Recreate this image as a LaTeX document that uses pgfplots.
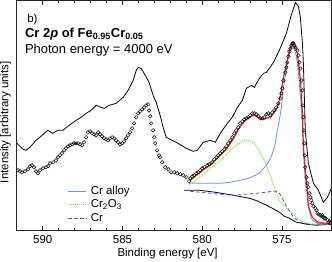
\documentclass[border=0pt]{standalone}
\usepackage{pgfplots}
\pgfplotsset{compat=1.18}
\usepackage{fontspec}
\setmainfont{Liberation Sans}
\definecolor{cralloy}{RGB}{100,150,235}
\definecolor{crmet}{RGB}{55,90,220}
\definecolor{croxide}{RGB}{130,225,60}
\definecolor{fitred}{RGB}{235,35,30}
\newcommand{\lblfont}{\fontsize{11.5}{13.5}\selectfont}
\newcommand{\ttlfont}{\fontsize{13}{15}\selectfont}
\begin{document}
\lblfont
\begin{tikzpicture}
\begin{axis}[
  scale only axis, width=314bp, height=229.5bp,
  x dir=reverse, xmin=571.93, xmax=591.63, ymin=0, ymax=230,
  xtick={575,580,585,590}, minor x tick num=4, ytick=\empty,
  tick align=inside, major tick length=4.5bp, minor tick length=2.5bp,
  xtick pos=both,
  axis line style={black!85, line width=0.8pt},
  every tick/.append style={black!85, line width=0.6pt},
  /pgf/number format/assume math mode=true,
  xticklabel style={font=\lblfont, yshift=-1.5bp},
  xlabel={Binding energy [eV]},
  ylabel={Intensity [arbitrary units]},
  every axis x label/.style={at={(axis description cs:0.48,-0.113)}, anchor=base, font=\lblfont},
  every axis y label/.style={at={(axis description cs:-0.0357,0.47)}, anchor=center, rotate=90, font=\lblfont},
  legend style={draw=none, fill=none, at={(axis description cs:0.162,0.2)}, anchor=north west, font=\lblfont, inner sep=0pt, row sep=-0.5pt, column sep=2pt},
  legend cell align=left,
  legend image code/.code={\draw[#1, line width=1pt] (0bp,0bp) -- (18bp,0bp);},
]
% baseline
\addplot[black, line width=0.8pt, forget plot] coordinates {
(581.13,40)(580.19,40)(579.18,38)(578.05,35)(577.05,32)(576.49,29)(575.98,25)(575.61,22)(575.17,18)(574.85,14)(574.54,12)(574.10,8)(573.47,6)(572.84,5)(571.90,6)};
% Cr alloy
\addplot[cralloy, line width=0.8pt] coordinates {
(580.82,47)(580.13,47)(579.50,47)(578.87,47)(578.24,48)(577.62,50)(577.11,52)(576.67,55)(576.36,58)(576.05,64)(575.86,68)(575.67,74)(575.54,80)(575.42,87)(575.29,100)(575.17,110)(575.04,123)(574.92,142)(574.79,155)(574.67,167)(574.60,174)(574.48,180)(574.35,183)(574.23,181)(574.10,174)(573.97,158)(573.85,135)(573.72,107)(573.66,80)(573.60,63)(573.54,48)(573.41,33)(573.35,23)(573.22,15)(573.10,10)(572.78,7)(571.90,6)};
\addlegendentry{Cr alloy}
% Cr2O3
\addplot[croxide, line width=1.1pt, densely dotted] coordinates {
(580.82,45)(580.44,50)(580.13,53)(579.81,58)(579.50,62)(579.18,66)(578.87,70)(578.56,75)(578.24,80)(577.93,84)(577.62,88)(577.36,90)(577.11,90)(576.92,89)(576.74,87)(576.55,83)(576.36,77)(576.17,72)(575.98,65)(575.86,60)(575.67,52)(575.54,45)(575.36,38)(575.23,33)(575.10,28)(574.85,24)(574.60,20)(574.35,17)(574.04,12)(573.66,8)(573.22,6)(571.90,6)};
\addlegendentry{Cr\textsubscript{2}O\textsubscript{3}}
% Cr metal
\addplot[crmet, line width=0.8pt, dash pattern=on 3.5pt off 2.5pt] coordinates {
(581.13,40)(580.75,39)(580.13,38)(579.50,37)(578.87,36)(578.05,35)(577.30,36)(576.61,37)(575.98,38)(575.61,39)(575.36,39)(575.17,37)(574.98,32)(574.73,24)(574.48,18)(574.29,13)(574.10,11)(573.91,8)(573.66,7)(573.22,6)(571.90,6)};
\addlegendentry{Cr}
% total fit
\addplot[fitred, line width=1.2pt, forget plot] coordinates {
(580.75,50)(580.44,54)(580.13,58)(579.81,62)(579.50,65)(579.18,70)(578.87,75)(578.56,80)(578.24,87)(577.93,95)(577.62,104)(577.30,110)(576.99,114)(576.74,115)(576.49,113)(576.23,111)(575.98,112)(575.73,113)(575.54,117)(575.29,123)(575.10,135)(574.92,152)(574.67,170)(574.48,183)(574.35,188)(574.29,188)(574.16,184)(574.04,177)(573.85,150)(573.72,117)(573.66,83)(573.54,60)(573.41,40)(573.35,25)(573.22,18)(573.10,13)(572.78,8)(572.34,7)(571.90,6)};
% data circles
\addplot[only marks, mark=o, mark size=1.8pt, black, mark options={line width=0.45pt}, forget plot] coordinates {
(591.55,60)(591.42,59)(591.30,58)(591.11,59)(590.92,61)(590.80,64)(590.67,65)(590.55,63)(590.42,59)(590.30,57)(590.17,60)(589.98,62)(589.79,63)(589.67,64)(589.54,67)(589.35,68)(589.17,70)(589.04,73)(588.91,75)(588.79,77)(588.66,80)(588.54,82)(588.41,84)(588.29,85)(588.16,86)(588.04,87)(587.91,87)(587.78,87)(587.66,86)(587.53,85)(587.41,88)(587.28,93)(587.16,98)(587.03,99)(586.91,97)(586.78,96)(586.65,95)(586.53,98)(586.40,96)(586.28,94)(586.15,92)(586.03,91)(585.90,90)(585.78,92)(585.65,93)(585.52,92)(585.40,90)(585.27,88)(585.15,86)(585.02,87)(584.90,89)(584.77,92)(584.65,95)(584.52,98)(584.39,102)(584.27,107)(584.14,113)(584.02,117)(583.89,119)(583.77,121)(583.64,123)(583.52,125)(583.39,126)(583.33,120)(583.26,114)(583.20,107)(583.08,100)(583.01,93)(582.95,87)(582.83,80)(582.70,75)(582.64,73)(582.51,68)(582.32,63)(582.13,61)(581.95,58)(581.76,58)(581.57,57)(581.38,56)(581.19,55)(581.00,53)(580.82,49)
(580.75,52)(580.63,54)(580.50,55)(580.38,57)(580.25,58)(580.13,60)(580.00,62)(579.88,63)(579.69,65)(579.56,66)(579.37,68)(579.25,71)(579.12,73)(579.00,75)(578.87,77)(578.75,79)(578.62,81)(578.49,84)(578.37,87)(578.24,90)(578.12,93)(577.99,97)(577.87,100)(577.74,103)(577.62,107)(577.49,109)(577.36,111)(577.24,112)(577.11,113)(576.99,115)(576.86,117)(576.74,117)(576.61,116)(576.49,114)(576.36,112)(576.23,112)(576.11,113)(575.98,116)(575.86,117)(575.73,115)(575.61,118)(575.48,120)(575.36,123)(575.23,127)(575.10,132)(575.04,137)(574.98,142)(574.92,150)(574.79,158)(574.73,163)(574.67,168)(574.60,174)(574.54,179)(574.48,182)(574.41,185)(574.35,187)(574.29,187)(574.23,185)(574.16,183)(574.04,180)(573.97,175)(573.91,168)(573.85,162)(573.79,150)(573.72,140)(573.69,125)(573.66,113)(573.63,100)(573.60,87)(573.57,75)(573.54,63)(573.47,53)(573.41,47)(573.35,43)(573.28,37)(573.22,33)(573.16,30)(573.10,27)(573.03,24)(572.91,22)(572.84,20)(572.78,17)(572.72,16)(572.59,15)(572.53,14)(572.47,15)(572.41,13)(572.34,12)(572.28,12)(572.15,10)(572.09,8)(572.03,9)(571.97,7)};
% upper spectrum
\addplot[black, line width=0.8pt, forget plot] coordinates {
(591.61,87)(591.49,85)(591.24,81)(591.05,80)(590.80,83)(590.42,90)(590.04,95)(589.69,100)(589.37,97)(589.06,100)(588.74,100)(588.35,105)(587.91,110)(587.60,113)(587.28,117)(586.97,120)(586.65,125)(586.34,123)(586.15,122)(585.84,125)(585.40,127)(584.96,133)(584.65,140)(584.33,150)(584.14,160)(584.02,163)(583.83,162)(583.64,157)(583.33,148)(583.08,135)(582.89,128)(582.64,115)(582.45,103)(582.26,93)(581.63,88)(581.00,82)(580.57,79)(580.31,80)(579.94,88)(579.50,90)(579.18,88)(578.87,97)(578.43,107)(578.12,113)(577.80,123)(577.49,130)(577.24,142)(576.92,145)(576.74,143)(576.42,152)(576.17,157)(575.98,158)(575.54,168)(575.17,180)(574.73,197)(574.41,216)(574.16,228)(573.97,224)(573.85,213)(573.72,187)(573.66,167)(573.60,133)(573.54,100)(573.35,67)(573.03,47)(572.72,40)(572.41,28)(572.15,33)(571.90,42)};
\node[anchor=base west, inner sep=0pt, font=\lblfont] at (axis description cs:0.033,0.906) {b)};
\node[anchor=base west, inner sep=0pt, font=\ttlfont] at (axis description cs:0.026,0.838) {\bfseries Cr 2\textit{p} of Fe\textsubscript{0.95}Cr\textsubscript{0.05}};
\node[anchor=base west, inner sep=0pt, font=\ttlfont] at (axis description cs:0.026,0.771) {Photon energy = 4000 eV};
\end{axis}
\pgfresetboundingbox
\path[use as bounding box] ([xshift=-16.7bp,yshift=-31bp]current axis.south west) rectangle ([xshift=1bp,yshift=0.5bp]current axis.north east);
\end{tikzpicture}
\end{document}
